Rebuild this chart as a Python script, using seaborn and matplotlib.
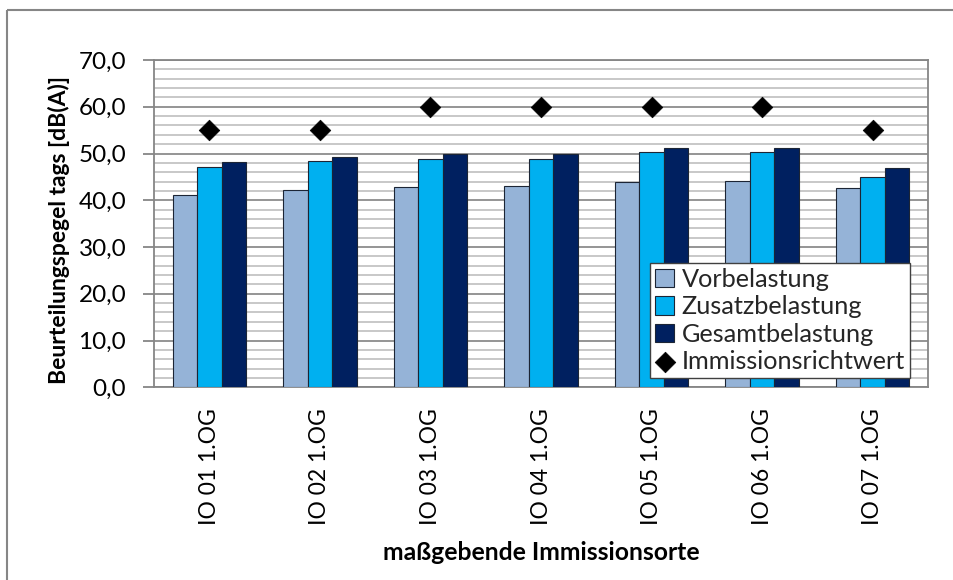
import matplotlib
matplotlib.use("Agg")
import matplotlib.pyplot as plt
from matplotlib.patches import Rectangle
from matplotlib.ticker import MultipleLocator, FuncFormatter
import seaborn as sns
import pandas as pd

# Immission points
orte = ["IO 01 1.OG", "IO 02 1.OG", "IO 03 1.OG", "IO 04 1.OG",
        "IO 05 1.OG", "IO 06 1.OG", "IO 07 1.OG"]

# Rating levels during daytime [dB(A)]
vorbelastung = [41.2, 42.2, 42.8, 43.0, 44.0, 44.1, 42.6]
zusatzbelastung = [47.2, 48.4, 48.8, 48.8, 50.3, 50.3, 45.0]
gesamtbelastung = [48.2, 49.3, 49.9, 49.9, 51.2, 51.2, 46.9]
richtwert = [55.0, 55.0, 60.0, 60.0, 60.0, 60.0, 55.0]

serien = ["Vorbelastung", "Zusatzbelastung", "Gesamtbelastung"]
farben = ["#95B3D7", "#00B0F0", "#002060"]

df = pd.DataFrame({
    "Ort": orte * 3,
    "Serie": [serien[0]] * 7 + [serien[1]] * 7 + [serien[2]] * 7,
    "Pegel": vorbelastung + zusatzbelastung + gesamtbelastung,
})
df_rw = pd.DataFrame({"Ort": orte, "Pegel": richtwert})

sns.set_theme(style="white")
plt.rcParams["font.family"] = ["Lato", "DejaVu Sans"]

W, H = 954, 580
fig = plt.figure(figsize=(W / 100, H / 100), dpi=100)
ax = fig.add_axes([154 / W, 1 - 387.3 / H, (928 - 154) / W, (387.3 - 60) / H])

# outer chart frame
fig.patches.append(Rectangle((7.5 / W, 1 - 9.5 / H), 2.0, -2.0,
                             transform=fig.transFigure, fill=False,
                             edgecolor="#868686", linewidth=1.5))

sns.barplot(data=df, x="Ort", y="Pegel", hue="Serie", hue_order=serien,
            palette=farben, width=0.663, gap=0, saturation=1,
            edgecolor="#1c2535", linewidth=0.8, ax=ax, zorder=3)
sns.scatterplot(data=df_rw, x="Ort", y="Pegel", marker="D", s=110,
                color="black", edgecolor="black", linewidth=0.5,
                label="Immissionsrichtwert", ax=ax, zorder=4)

ax.set_ylim(0, 70)
ax.set_xlim(-0.5, 6.5)
ax.yaxis.set_major_locator(MultipleLocator(10))
ax.yaxis.set_minor_locator(MultipleLocator(2))
ax.yaxis.set_major_formatter(FuncFormatter(lambda v, p: f"{v:.1f}".replace(".", ",")))
ax.grid(which="minor", axis="y", color="#C4C4C4", linewidth=1.3, zorder=0)
ax.grid(which="major", axis="y", color="#8C8C8C", linewidth=1.3, zorder=0)
ax.set_axisbelow(True)

for s in ax.spines.values():
    s.set_color("#868686")
    s.set_linewidth(1.3)

ax.tick_params(axis="y", which="major", direction="out", length=8, width=1.3,
               color="#868686", pad=12, labelsize=17.5, labelcolor="black", left=True)
ax.tick_params(axis="y", which="minor", length=0)
ax.tick_params(axis="x", length=0, pad=15, labelsize=16.5, labelcolor="black",
               labelrotation=90)

ax.set_xlabel("maßgebende Immissionsorte", fontsize=17.8, fontweight="bold", color="black")
ax.set_ylabel("Beurteilungspegel tags [dB(A)]", fontsize=16.5, fontweight="bold", color="black")
ax.xaxis.label.set_va("center")
ax.xaxis.set_label_coords(0.5, (387.3 - 553) / 327.3)
ax.yaxis.label.set_va("center")
ax.yaxis.set_label_coords((59 - 154) / 774, 0.48)

handles, labels = ax.get_legend_handles_labels()
order = [labels.index(n) for n in serien + ["Immissionsrichtwert"]]
leg = ax.legend([handles[i] for i in order], [labels[i] for i in order],
                loc="lower left", bbox_to_anchor=(0.641, 0.0275),
                frameon=True, fancybox=False, framealpha=1,
                edgecolor="#404040", fontsize=18.2, handlelength=0.75,
                handleheight=0.75, handletextpad=0.3, labelspacing=0.18,
                borderpad=0.2, borderaxespad=0)
leg.get_frame().set_linewidth(1.0)

fig.savefig("out.png", dpi=100)
